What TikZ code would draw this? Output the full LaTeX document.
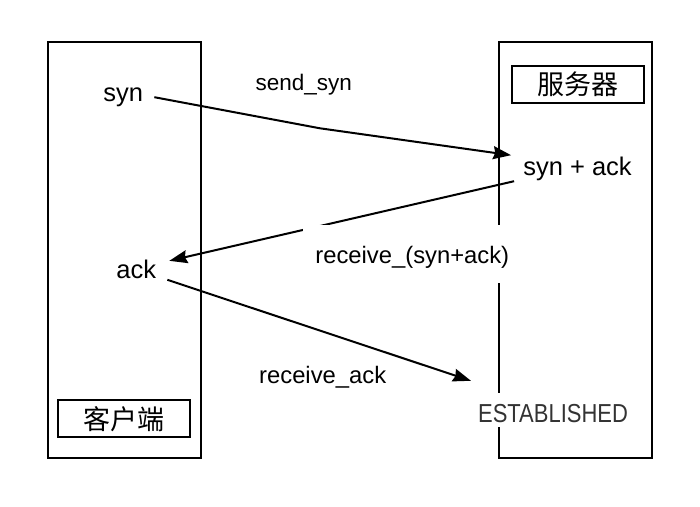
\documentclass[tikz,border=0pt]{standalone}
\usepackage{fontspec}
\setmainfont{Liberation Sans}
\newfontfamily\cjk{Noto Sans CJK SC}
\usetikzlibrary{arrows.meta}
\definecolor{estgray}{HTML}{333333}

\begin{document}
\begin{tikzpicture}[x=1pt, y=-1pt,
    lane/.style={rectangle, draw, line width=2pt, minimum width=153pt, minimum height=416pt},
    tag/.style={rectangle, draw, line width=2pt, minimum width=132pt, minimum height=37pt, font=\cjk\fontsize{27}{30}\selectfont},
    stlabel/.style={anchor=base, inner sep=0pt, text height=18pt, text depth=5pt, font=\fontsize{25.5}{30}\selectfont},
    msg/.style={anchor=base, font=\fontsize{23.8}{28}\selectfont},
    whitebox/.style={anchor=base, fill=white, inner xsep=2pt, inner ysep=2pt},
    arr/.style={line width=2pt, -{Stealth[length=18pt, width=13pt, inset=2pt]}}
    ]
    \useasboundingbox (0,0) rectangle (700,506);
    \node[lane] (client) at (124,249.6) {};
    \node[lane] (server) at (575,249.6) {};
    \node[tag] (clienttag) at (123.7,418.7) {客户端};
    \node[tag] (servertag) at (577.5,84.2) {服务器};
    \node[stlabel] (syn) at (123.3,101.7) {syn};
    \node[stlabel] (synack) at (577.5,175.7) {syn + ack};
    \node[stlabel] (ack) at (136.3,278.3) {ack};
    \node[msg, font=\fontsize{22.5}{28}\selectfont] (sendsyn) at (303.7,90.7) {send\_syn};
    \node[msg] (recvack) at (322.7,383.3) {receive\_ack};
    \node[whitebox, text=estgray, text height=27.7pt, text depth=2.3pt, font=\fontsize{26}{30}\selectfont]
      (est) at (553,422.7) {\scalebox{0.845}[1]{ESTABLISHED}};
    \coordinate (synbend) at (320,128.3);
    \draw[arr] ([xshift=11pt,yshift=-2pt]syn.east) -- (synbend) -- ([xshift=-12pt,yshift=14pt]synack.west);
    \draw[arr] ([xshift=-9pt,yshift=-12pt]synack.west) -- ([xshift=13pt,yshift=11pt]ack.east);
    \draw[arr] ([xshift=11pt,yshift=-8pt]ack.east) -- ([xshift=-5pt,yshift=12pt]est.north west);
    \node[whitebox, msg, text height=36pt, text depth=18pt, minimum width=218pt]
      (recvsynack) at (412.3,263) {receive\_(syn+ack)};
\end{tikzpicture}
\end{document}
